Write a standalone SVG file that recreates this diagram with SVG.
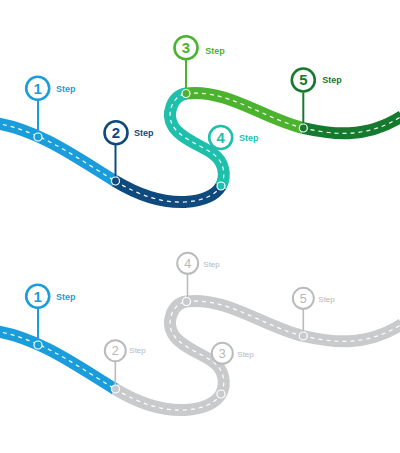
<svg xmlns="http://www.w3.org/2000/svg" xmlns:xlink="http://www.w3.org/1999/xlink" width="400" height="453" viewBox="0 0 400 453">
<style>
.road{fill:none;stroke-width:12;stroke-linecap:butt}
.dash{fill:none;stroke:#fff;stroke-width:1.2;stroke-dasharray:4 4}
.ring{fill:#fff;stroke-width:2.6}
.gring{fill:#fff;stroke:#b9bbbd;stroke-width:2}
.num{font-family:"Liberation Sans",Arial,sans-serif;font-weight:bold;font-size:15px;text-anchor:middle}
.gnum{font-family:"Liberation Sans",Arial,sans-serif;font-size:12.5px;text-anchor:middle;fill:#b5b7b9}
.lbl{font-family:"Liberation Sans",Arial,sans-serif;font-weight:bold;font-size:9px}
.glbl{font-family:"Liberation Sans",Arial,sans-serif;font-size:8px;fill:#b5b7b9}
.dot{stroke:#fff;stroke-width:1.2}
.stem{stroke-width:2}
.gstem{stroke:#b9bbbd;stroke-width:1.6}
</style>
<defs>
<path id="sA" d="M -5,123 C 40,130 80,160 115,181"/>
<path id="sB" d="M 115,181 C 140,196 162,203 185,202 C 201,201 215,196 221,186"/>
<path id="sC" d="M 221,186 C 226,176 225,162 212,153 C 200,145 180,138 173,126 C 166,114 172,96 186,93.5"/>
<path id="sD" d="M 186,93.5 C 228,89 262,118 303,128"/>
<path id="sE" d="M 303,128 C 330,134 365,140 402,116"/>
</defs>

<g id="connectors">
  <!-- top road -->
  <g id="road-top">
    <use xlink:href="#sA" href="#sA" class="road" stroke="#1b9ddb"/>
    <use xlink:href="#sB" href="#sB" class="road" stroke="#0e4a7e"/>
    <use xlink:href="#sC" href="#sC" class="road" stroke="#1ebfab"/>
    <use xlink:href="#sD" href="#sD" class="road" stroke="#4bb32e"/>
    <use xlink:href="#sE" href="#sE" class="road" stroke="#157a2d"/>
    <use xlink:href="#sA" href="#sA" class="dash"/>
    <use xlink:href="#sB" href="#sB" class="dash"/>
    <use xlink:href="#sC" href="#sC" class="dash"/>
    <use xlink:href="#sD" href="#sD" class="dash"/>
    <use xlink:href="#sE" href="#sE" class="dash"/>
  </g>
  <!-- bottom road -->
  <g id="road-bottom" transform="translate(0,208)">
    <use xlink:href="#sA" href="#sA" class="road" stroke="#1b9ddb"/>
    <use xlink:href="#sB" href="#sB" class="road" stroke="#c8cacc"/>
    <use xlink:href="#sC" href="#sC" class="road" stroke="#c8cacc"/>
    <use xlink:href="#sD" href="#sD" class="road" stroke="#c8cacc"/>
    <use xlink:href="#sE" href="#sE" class="road" stroke="#c8cacc"/>
    <use xlink:href="#sA" href="#sA" class="dash"/>
    <use xlink:href="#sB" href="#sB" class="dash"/>
    <use xlink:href="#sC" href="#sC" class="dash"/>
    <use xlink:href="#sD" href="#sD" class="dash"/>
    <use xlink:href="#sE" href="#sE" class="dash"/>
  </g>
  <!-- stems top -->
  <line class="stem" stroke="#1b9ddb" x1="38" y1="101" x2="38" y2="137"/>
  <line class="stem" stroke="#0e4a7e" x1="115.5" y1="145" x2="115.5" y2="181"/>
  <line class="stem" stroke="#4bb32e" x1="186" y1="60" x2="186" y2="93.5"/>
  <line class="stem" stroke="#157a2d" x1="303.3" y1="92.5" x2="303.3" y2="128"/>
  <!-- stems bottom -->
  <line class="stem" stroke="#1b9ddb" x1="38" y1="309" x2="38" y2="345"/>
  <line class="gstem" x1="115.3" y1="361.5" x2="115.3" y2="389"/>
  <line class="gstem" x1="187.5" y1="274" x2="187.5" y2="301.5"/>
  <line class="gstem" x1="303.3" y1="309" x2="303.3" y2="336"/>
  <!-- road dots top -->
  <circle class="dot" fill="#1b9ddb" cx="38" cy="137" r="4"/>
  <circle class="dot" fill="#0e4a7e" cx="115.5" cy="181" r="4"/>
  <circle class="dot" fill="#1ebfab" cx="221" cy="186" r="4"/>
  <circle class="dot" fill="#4bb32e" cx="186" cy="93.5" r="4"/>
  <circle class="dot" fill="#157a2d" cx="303.3" cy="128" r="4"/>
  <!-- road dots bottom -->
  <circle class="dot" fill="#1b9ddb" cx="38" cy="345" r="4"/>
  <circle class="dot" fill="#c8cacc" cx="115.5" cy="389" r="4"/>
  <circle class="dot" fill="#c8cacc" cx="221" cy="394" r="4"/>
  <circle class="dot" fill="#c8cacc" cx="186.5" cy="301.5" r="4"/>
  <circle class="dot" fill="#c8cacc" cx="303.3" cy="336" r="4"/>
</g>

<g id="node-top-1">
  <circle class="ring" stroke="#1b9ddb" cx="37.7" cy="88.3" r="11.5"/>
  <text class="num" fill="#1b9ddb" x="37.7" y="93.7">1</text>
  <text class="lbl" fill="#1b9ddb" x="56" y="92">Step</text>
</g>
<g id="node-top-2">
  <circle class="ring" stroke="#0e4a7e" cx="116" cy="132.7" r="11.5"/>
  <text class="num" fill="#0e4a7e" x="116" y="138.1">2</text>
  <text class="lbl" fill="#0e4a7e" x="134" y="136">Step</text>
</g>
<g id="node-top-3">
  <circle class="ring" stroke="#4bb32e" cx="186" cy="47.7" r="11.5"/>
  <text class="num" fill="#4bb32e" x="186" y="53.1">3</text>
  <text class="lbl" fill="#4bb32e" x="205.3" y="54">Step</text>
</g>
<g id="node-top-4">
  <circle class="ring" stroke="#1ebfab" cx="220.7" cy="137.5" r="11.5"/>
  <text class="num" fill="#1ebfab" x="220.7" y="142.9">4</text>
  <text class="lbl" fill="#1ebfab" x="239" y="141">Step</text>
</g>
<g id="node-top-5">
  <circle class="ring" stroke="#157a2d" cx="303.3" cy="80" r="11.5"/>
  <text class="num" fill="#157a2d" x="303.3" y="85.4">5</text>
  <text class="lbl" fill="#157a2d" x="322.3" y="83">Step</text>
</g>

<g id="node-bottom-1">
  <circle class="ring" stroke="#1b9ddb" cx="37.7" cy="296.3" r="11.5"/>
  <text class="num" fill="#1b9ddb" x="37.7" y="301.7">1</text>
  <text class="lbl" fill="#1b9ddb" x="56" y="300">Step</text>
</g>
<g id="node-bottom-2">
  <circle class="gring" cx="115.3" cy="350.7" r="10.5"/>
  <text class="gnum" x="115.3" y="355.2">2</text>
  <text class="glbl" x="129.3" y="353.3">Step</text>
</g>
<g id="node-bottom-3">
  <circle class="gring" cx="222.3" cy="353.3" r="10.5"/>
  <text class="gnum" x="222.3" y="357.8">3</text>
  <text class="glbl" x="237.3" y="357.3">Step</text>
</g>
<g id="node-bottom-4">
  <circle class="gring" cx="187.7" cy="263.3" r="10.5"/>
  <text class="gnum" x="187.7" y="267.8">4</text>
  <text class="glbl" x="203.3" y="266.7">Step</text>
</g>
<g id="node-bottom-5">
  <circle class="gring" cx="303.3" cy="298.3" r="10.5"/>
  <text class="gnum" x="303.3" y="302.8">5</text>
  <text class="glbl" x="318.3" y="302.3">Step</text>
</g>
</svg>
